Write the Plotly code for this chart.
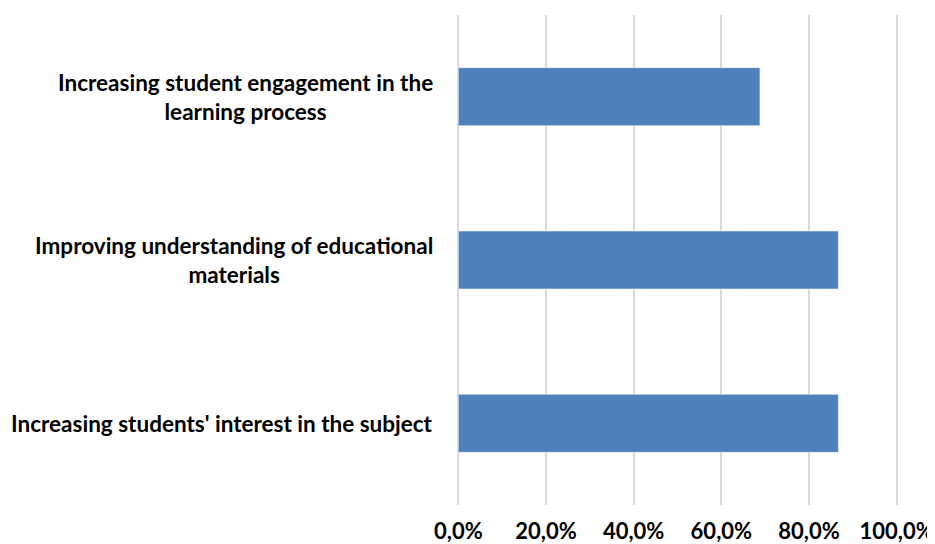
import plotly.graph_objects as go

categories = [
    "Increasing students' interest in the subject",
    "Improving understanding of educational<br>materials",
    "Increasing student engagement in the<br>learning process",
]
values = [86.7, 86.7, 68.8]
tick_vals = [0, 20, 40, 60, 80, 100]
tick_text = ["0,0%", "20,0%", "40,0%", "60,0%", "80,0%", "100,0%"]

FONT = "Lato"

fig = go.Figure(
    go.Bar(
        x=values,
        y=categories,
        orientation="h",
        marker=dict(color="#4F81BD", line=dict(color="#FFFFFF", width=0.5)),
        width=0.355,
    )
)

# Category labels as centered multi-line annotations (right edge next to the plot)
for cat in categories:
    fig.add_annotation(
        x=0, xref="paper", xanchor="right", xshift=-22,
        y=cat, yref="y", yanchor="middle",
        text=cat, align="center", showarrow=False,
        font=dict(family=FONT, size=22.5, color="#000000", weight="bold"),
    )

fig.update_layout(
    width=927,
    height=536,
    margin=dict(l=449, r=37, t=7, b=39),
    paper_bgcolor="white",
    plot_bgcolor="white",
    showlegend=False,
    font=dict(family=FONT, color="#000000"),
)
fig.update_xaxes(
    range=[-0.3, 100.3],
    tickvals=tick_vals,
    ticktext=tick_text,
    showgrid=True,
    gridcolor="#D9D9D9",
    gridwidth=2,
    zeroline=False,
    showline=False,
    automargin=False,
    tickfont=dict(family=FONT, size=22, color="#000000", weight="bold"),
    ticklabelstandoff=11,
)
fig.update_yaxes(
    showgrid=False,
    zeroline=False,
    showline=False,
    automargin=False,
    showticklabels=False,
)

fig.write_html("out.html")
